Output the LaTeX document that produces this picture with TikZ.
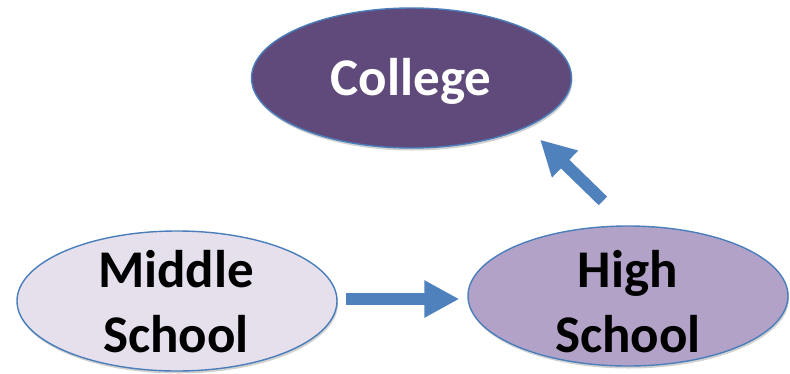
\documentclass[tikz,border=0pt]{standalone}
\usepackage{fontspec}
\setmainfont{Carlito}
\usetikzlibrary{shapes.geometric,arrows.meta,shadows}
\definecolor{edgeblue}{HTML}{4A7EBB}
\definecolor{arrowblue}{HTML}{4F81BD}
\definecolor{collegefill}{HTML}{604A7B}
\definecolor{highfill}{HTML}{B3A2C7}
\definecolor{middlefill}{HTML}{E6E0EC}
\begin{document}
\begin{tikzpicture}[x=1pt,y=-1pt,
  oval/.style={ellipse, draw=edgeblue, line width=1.4pt, minimum width=320pt, minimum height=140pt, inner sep=0pt,
    drop shadow={shadow xshift=1pt,shadow yshift=-2.5pt,opacity=0.18,fill=black}},
  lbl/.style={font=\fontsize{53}{65}\selectfont\bfseries, align=center, inner sep=0pt},
  flow/.style={draw=arrowblue, line width=12pt, -{Triangle[length=35pt,width=35pt]}}
]
\useasboundingbox (0,0) rectangle (790,373);
\node[oval, fill=collegefill] (college) at (411.5,78) {};
\node[oval, fill=middlefill] (mid) at (177,301) {};
\node[oval, fill=highfill] (high) at (628,296) {};
\node[lbl, text=white] (tcollege) at (411,81) {College};
\node[lbl] (tmid) at (176,302) {Middle\\School};
\node[lbl] (thigh) at (628,302) {High\\School};
\draw[flow, shorten <=8pt, shorten >=8pt] ([yshift=2pt]mid.east) -- ([yshift=-3pt]high.west);
\draw[flow, shorten <=35pt, shorten >=18pt] (high.north) -- (college.-23);
\end{tikzpicture}
\end{document}
